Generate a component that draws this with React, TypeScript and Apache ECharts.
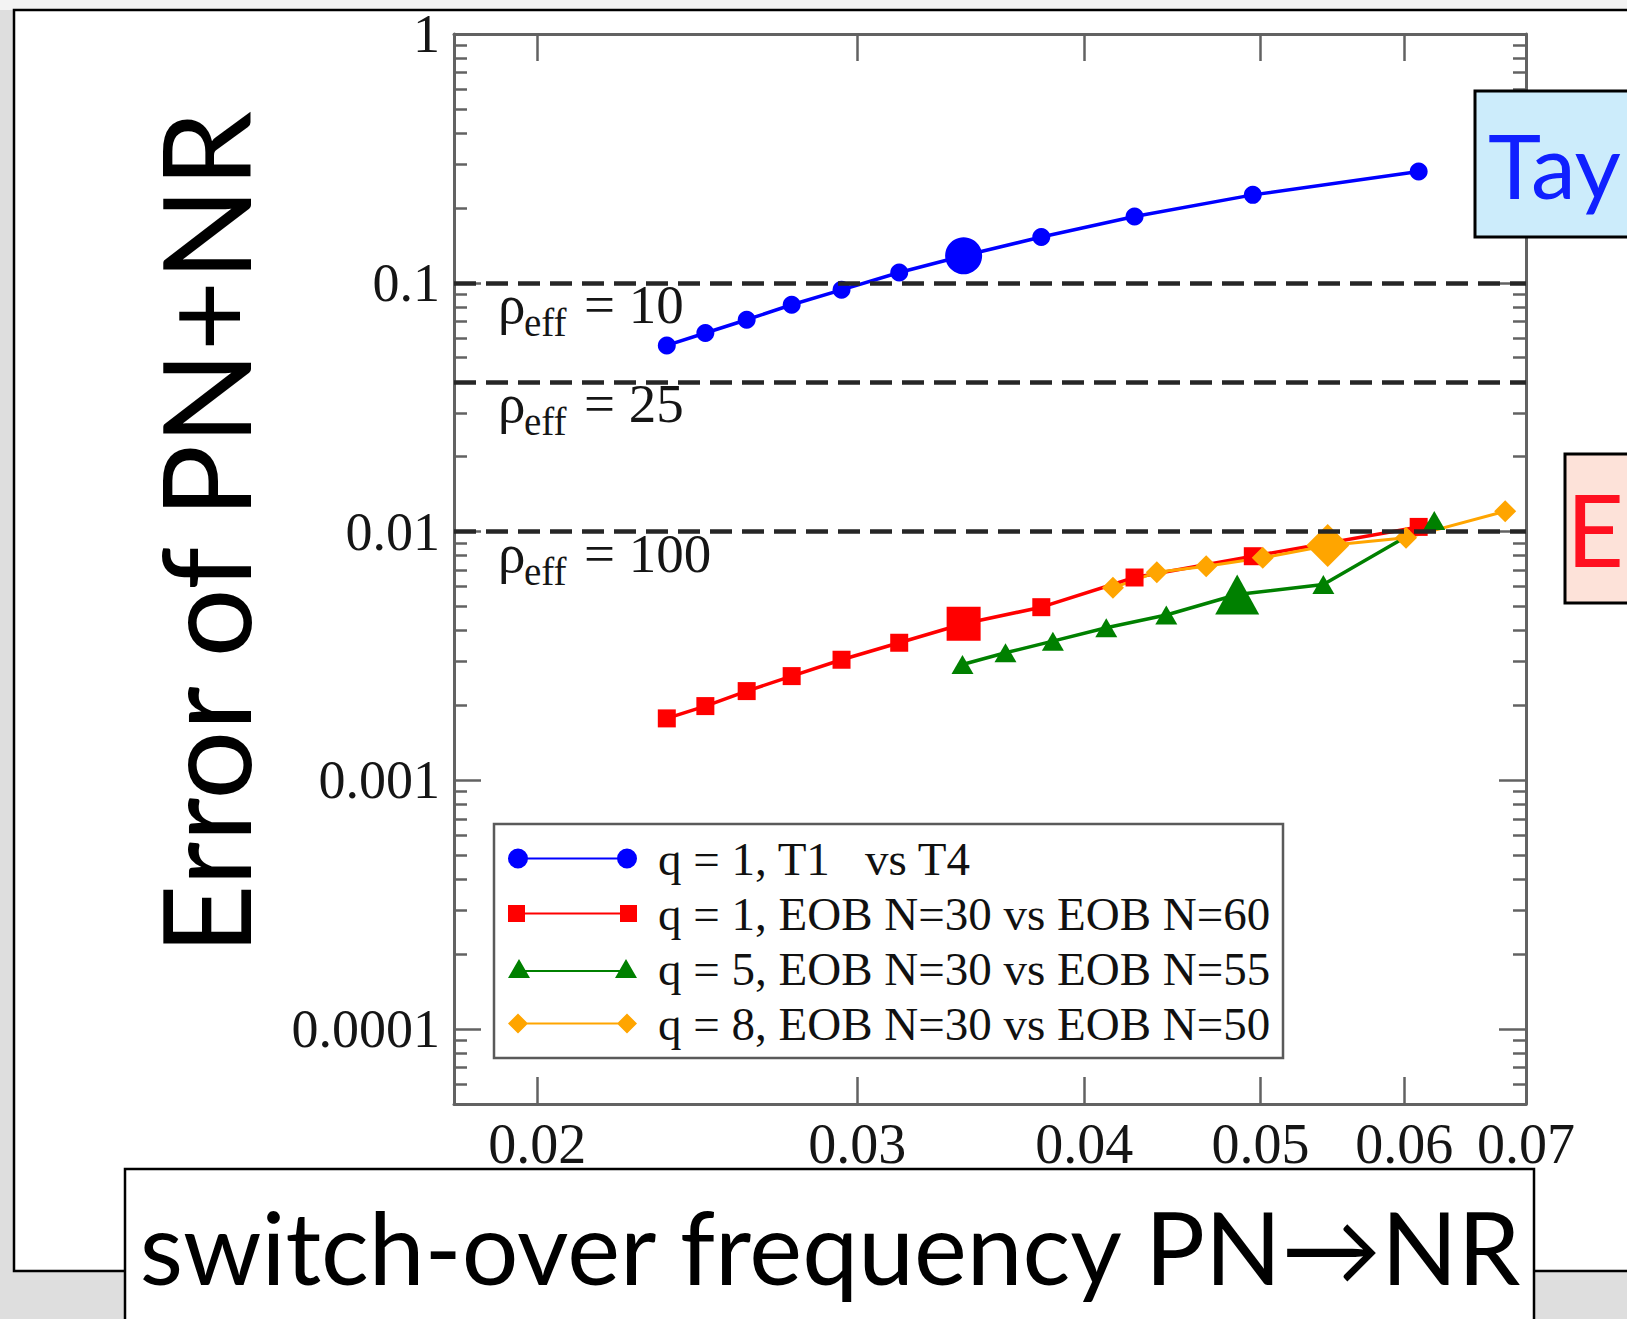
import React, { useEffect, useRef } from "react";
import * as echarts from "echarts";

// ---------- data ----------
const seriesNames = [
  "q = 1, T1\u00a0\u00a0\u00a0vs T4",
  "q = 1, EOB N=30 vs EOB N=60",
  "q = 5, EOB N=30 vs EOB N=55",
  "q = 8, EOB N=30 vs EOB N=50",
];

const blueX = [0.02357, 0.02475, 0.02608, 0.02761, 0.02941, 0.03164, 0.03433, 0.03788, 0.04263, 0.04952, 0.0611];
const blueY = [0.056, 0.0628, 0.071, 0.0816, 0.0937, 0.11, 0.1284, 0.1527, 0.1846, 0.2256, 0.2799];
const blueBig = 6;

const redX = [0.02357, 0.02475, 0.02608, 0.02761, 0.02941, 0.03164, 0.03433, 0.03788, 0.04263, 0.04952, 0.0611];
const redY = [0.001774, 0.001988, 0.002284, 0.002624, 0.003053, 0.003573, 0.004259, 0.004966, 0.006536, 0.007959, 0.01044];
const redBig = 6;

const greenX = [0.03428, 0.0362, 0.03844, 0.04113, 0.04438, 0.04855, 0.05415, 0.06232];
const greenY = [0.002923, 0.003257, 0.003627, 0.004104, 0.004621, 0.005585, 0.006126, 0.01107];
const greenBig = 5;

const orangeX = [0.04148, 0.04385, 0.04668, 0.05015, 0.05445, 0.06013, 0.06818];
const orangeY = [0.005941, 0.006864, 0.007256, 0.007842, 0.008788, 0.009434, 0.01207];
const orangeBig = 4;

const xTickValues = [0.02, 0.03, 0.04, 0.05, 0.06, 0.07];
const xTickLabels = ["0.02", "0.03", "0.04", "0.05", "0.06", "0.07"];
const yTickValues = [1, 0.1, 0.01, 0.001, 0.0001];
const yTickLabels = ["1", "0.1", "0.01", "0.001", "0.0001"];

const rhoValues = ["10", "25", "100"];
const rhoErrors = [0.1, 0.04, 0.01];

const xMin = 0.018;
const xMax = 0.07;
const yMin = 0.00005;
const yMax = 1;

const yTitle = "Error of PN+NR";
const xTitle = "switch-over frequency PN\u2192NR";
const taylorText = "Tay";
const eobText = "E";

// ---------- styles ----------
const colors = ["#0000ff", "#ff0000", "#008000", "#ffa500"];
const L = Math.log10;

export default function App() {
  const ref = useRef<HTMLDivElement>(null);

  useEffect(() => {
    const chart = echarts.init(ref.current!, null, { renderer: "svg" });
    const axisColor = "#626262";
    const tickLine = { color: axisColor, width: 2.5 };
    const serif = "Liberation Serif";

    const fmtX = (v: number) => {
      const i = xTickValues.findIndex((t) => Math.abs(L(t) - v) < 1e-9);
      return i >= 0 ? xTickLabels[i] : "";
    };
    const fmtY = (v: number) => {
      const i = yTickValues.findIndex((t) => Math.abs(L(t) - v) < 1e-9);
      return i >= 0 ? yTickLabels[i] : "";
    };

    const minorY: number[] = [];
    for (let e = -5; e <= -1; e++) {
      for (let k = 2; k <= 9; k++) {
        const v = k * Math.pow(10, e);
        if (v >= yMin && v <= yMax) minorY.push(L(v));
      }
    }

    const build = (xs: number[], ys: number[], big: number, bigSize: any) =>
      xs.map((x, i) =>
        i === big ? { value: [L(x), L(ys[i])], symbolSize: bigSize } : [L(x), L(ys[i])]
      );

    const icons = [
      "path://M0,10a10,10 0 1,1 20,0a10,10 0 1,1 -20,0zM10,9h109v2h-109zM109,10a10,10 0 1,1 20,0a10,10 0 1,1 -20,0z",
      "path://M0,1.5h17v17h-17zM8,9h113v2h-113zM112,1.5h17v17h-17z",
      "path://M0,19L11,0L22,19zM11,11h107v2h-107zM107,19L118,0L129,19z",
      "path://M0,10L10,0L20,10L10,20zM10,9h109v2h-109zM109,10L119,0L129,10L119,20z",
    ];

    const xAxisBase = {
      type: "value",
      min: L(xMin),
      max: L(xMax),
      splitLine: { show: false },
      axisLine: { show: true, onZero: false, lineStyle: { color: axisColor, width: 3 } },
      axisTick: {
        show: true,
        inside: true,
        length: 27,
        customValues: xTickValues.slice(0, 5).map(L),
        lineStyle: tickLine,
      },
    };
    const yAxisBase = {
      type: "value",
      min: L(yMin),
      max: L(yMax),
      splitLine: { show: false },
    };

    const option: any = {
      animation: false,
      grid: { left: 454, top: 34, width: 1072, height: 1070, containLabel: false },
      xAxis: [
        {
          ...xAxisBase,
          position: "bottom",
          axisLabel: {
            customValues: xTickValues.map(L),
            formatter: fmtX,
            fontFamily: serif,
            fontSize: 56,
            color: "#151515",
            margin: 12,
          },
        },
        { ...xAxisBase, position: "top", axisLabel: { show: false } },
      ],
      yAxis: [
        {
          ...yAxisBase,
          position: "left",
          axisLine: { show: true, onZero: false, lineStyle: { color: axisColor, width: 3 } },
          axisTick: { show: true, inside: true, length: 27, customValues: yTickValues.map(L), lineStyle: tickLine },
          axisLabel: {
            customValues: yTickValues.map(L),
            formatter: fmtY,
            fontFamily: serif,
            fontSize: 54,
            color: "#151515",
            margin: 14,
          },
        },
        {
          ...yAxisBase,
          position: "left",
          axisLine: { show: false, onZero: false },
          axisTick: { show: true, inside: true, length: 13, customValues: minorY, lineStyle: tickLine },
          axisLabel: { show: false },
        },
        {
          ...yAxisBase,
          position: "right",
          axisLine: { show: true, onZero: false, lineStyle: { color: axisColor, width: 3 } },
          axisTick: { show: true, inside: true, length: 27, customValues: yTickValues.map(L), lineStyle: tickLine },
          axisLabel: { show: false },
        },
        {
          ...yAxisBase,
          position: "right",
          axisLine: { show: false, onZero: false },
          axisTick: { show: true, inside: true, length: 13, customValues: minorY, lineStyle: tickLine },
          axisLabel: { show: false },
        },
      ],
      legend: {
        data: seriesNames.map((n, i) => ({ name: n, icon: icons[i] })),
        orient: "vertical",
        left: 508,
        top: 835,
        padding: 0,
        itemGap: 8,
        itemWidth: 129,
        itemHeight: 20,
        selectedMode: false,
        itemStyle: { borderWidth: 0 },
        textStyle: { fontFamily: serif, fontSize: 47, color: "#111", padding: [0, 0, 0, 16] },
        z: 6,
      },
      series: [
        {
          name: seriesNames[0],
          type: "line",
          data: build(blueX, blueY, blueBig, 37),
          symbol: "circle",
          symbolSize: 18,
          lineStyle: { color: colors[0], width: 3.5 },
          itemStyle: { color: colors[0], borderWidth: 0 },
          markLine: {
            silent: true,
            symbol: ["none", "none"],
            label: { show: false },
            lineStyle: { type: [22, 10], color: "#262626", width: 4.5 },
            data: rhoErrors.map((v) => ({ yAxis: L(v) })),
          },
        },
        {
          name: seriesNames[1],
          type: "line",
          data: build(redX, redY, redBig, 34),
          symbol: "rect",
          symbolSize: 18,
          lineStyle: { color: colors[1], width: 3.5 },
          itemStyle: { color: colors[1], borderWidth: 0 },
        },
        {
          name: seriesNames[2],
          type: "line",
          data: build(greenX, greenY, greenBig, [44, 40]),
          symbol: "triangle",
          symbolSize: [22, 19],
          lineStyle: { color: colors[2], width: 3.5 },
          itemStyle: { color: colors[2], borderWidth: 0 },
        },
        {
          name: seriesNames[3],
          type: "line",
          data: build(orangeX, orangeY, orangeBig, [43, 43]),
          symbol: "diamond",
          symbolSize: [22, 22],
          lineStyle: { color: colors[3], width: 3 },
          itemStyle: { color: colors[3], borderWidth: 0 },
        },
      ],
    };

    chart.setOption(option);

    const py = (v: number) => chart.convertToPixel({ yAxisIndex: 0 }, L(v)) as number;
    const px = (v: number) => chart.convertToPixel({ xAxisIndex: 0 }, L(v)) as number;
    const plotLeft = px(xMin);

    const elements: any[] = [
      { type: "rect", shape: { x: 0, y: 0, width: 1627, height: 10 }, style: { fill: "#f3f3f3" }, z: -30, silent: true },
      {
        type: "rect",
        shape: { x: 14, y: 10, width: 1700, height: 1261 },
        style: { fill: "#ffffff", stroke: "#000000", lineWidth: 2.5 },
        z: -20,
        silent: true,
      },
      {
        type: "rect",
        shape: { x: 494, y: 824, width: 789, height: 234 },
        style: { fill: "#ffffff", stroke: "#5a5a5a", lineWidth: 2.5 },
        z: 1,
        silent: true,
      },
      {
        type: "rect",
        shape: { x: 125, y: 1169, width: 1409, height: 200 },
        style: { fill: "#ffffff", stroke: "#000000", lineWidth: 2.5 },
        z: 10,
        silent: true,
      },
      {
        type: "text",
        x: 830,
        y: 1246,
        style: { text: xTitle, fontFamily: "Lato", fontSize: 100, fill: "#000", align: "center", verticalAlign: "middle" },
        z: 11,
        silent: true,
      },
      {
        type: "text",
        x: 204,
        y: 533,
        rotation: Math.PI / 2,
        style: { text: yTitle, fontFamily: "Lato", fontSize: 122, fill: "#000", align: "center", verticalAlign: "middle" },
        z: 11,
        silent: true,
      },
      {
        type: "rect",
        shape: { x: 1475, y: 91, width: 300, height: 146 },
        style: { fill: "#ccecfb", stroke: "#000000", lineWidth: 3 },
        z: 10,
        silent: true,
      },
      {
        type: "text",
        x: 1488,
        y: 164,
        style: { text: taylorText, fontFamily: "Lato", fontSize: 90, fill: "#1020ff", align: "left", verticalAlign: "middle" },
        z: 11,
        silent: true,
      },
      {
        type: "rect",
        shape: { x: 1565, y: 454, width: 300, height: 149 },
        style: { fill: "#fde2d9", stroke: "#000000", lineWidth: 3 },
        z: 10,
        silent: true,
      },
      {
        type: "text",
        x: 1624,
        y: 528,
        style: { text: eobText, fontFamily: "Lato", fontSize: 100, fill: "#ff1020", align: "right", verticalAlign: "middle" },
        z: 11,
        silent: true,
      },
    ];

    rhoErrors.forEach((v, i) => {
      const ly = py(v);
      elements.push(
        {
          type: "text",
          x: plotLeft + 44,
          y: ly + 22,
          style: { text: "\u03c1", fontFamily: serif, fontSize: 55, fill: "#151515", align: "left", verticalAlign: "middle" },
          z: 8,
          silent: true,
        },
        {
          type: "text",
          x: plotLeft + 70,
          y: ly + 40,
          style: { text: "eff", fontFamily: serif, fontSize: 39, fill: "#151515", align: "left", verticalAlign: "middle" },
          z: 8,
          silent: true,
        },
        {
          type: "text",
          x: plotLeft + 130,
          y: ly + 22,
          style: { text: "= " + rhoValues[i], fontFamily: serif, fontSize: 55, fill: "#151515", align: "left", verticalAlign: "middle" },
          z: 8,
          silent: true,
        }
      );
    });

    chart.setOption({ graphic: { elements } });

    return () => chart.dispose();
  }, []);

  return (
    <div
      ref={ref}
      style={{
        position: "fixed",
        left: 0,
        top: 0,
        width: "1627px",
        height: "1319px",
        overflow: "hidden",
        background: "#dedede",
      }}
    />
  );
}
